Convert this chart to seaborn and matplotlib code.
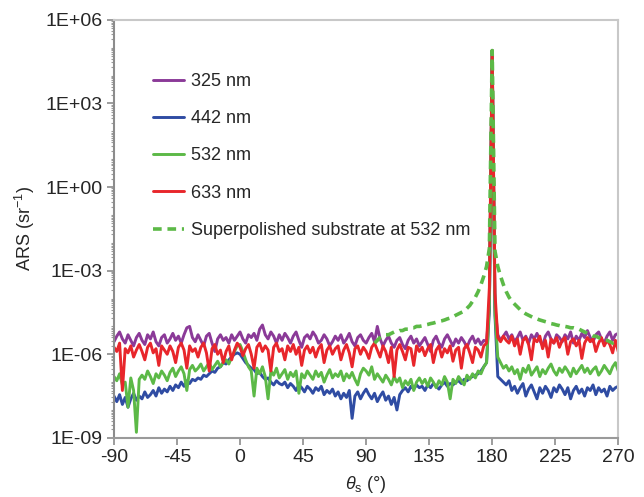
import numpy as np
import pandas as pd
import matplotlib
matplotlib.use("Agg")
import matplotlib.pyplot as plt
import matplotlib.ticker as mticker
import seaborn as sns

# scattering angle grid, degrees (2 deg steps)
theta = np.arange(-90, 271, 2)
theta_sub = np.arange(96, 271, 2)

# log10(ARS)
log_325 = [
    -5.55, -5.35, -5.2, -5.45, -5.6, -5.3, -5.5, -5.7, -5.4, -5.25,
    -5.5, -5.65, -5.3, -5.45, -5.2, -5.55, -5.7, -5.4, -5.3, -5.6,
    -5.45, -5.25, -5.5, -5.35, -5.6, -5.3, -5.05, -5.0, -5.4, -5.55,
    -5.3, -5.5, -5.7, -5.35, -5.25, -5.6, -5.9, -5.45, -5.3, -5.5,
    -5.4, -5.6, -5.3, -5.5, -5.35, -5.2, -5.45, -5.6, -5.3, -5.4,
    -5.25, -5.5, -5.1, -4.95, -5.3, -5.45, -5.2, -5.35, -5.6, -5.3,
    -5.5, -5.25, -5.4, -5.6, -5.35, -5.2, -5.5, -5.75, -5.4, -5.3,
    -5.45, -5.2, -5.35, -5.6, -5.5, -5.3, -5.45, -5.7, -5.55, -5.35,
    -5.5, -5.3, -5.6, -5.45, -5.25, -5.55, -5.7, -5.4, -5.3, -5.5,
    -5.6, -5.4, -5.25, -5.55, -5.0, -5.45, -5.7, -5.5, -5.35, -5.6,
    -5.75, -5.5, -5.4, -5.65, -5.8, -5.5, -5.35, -5.6, -5.45, -5.7,
    -5.55, -5.4, -5.65, -5.9, -5.5, -5.35, -5.6, -5.75, -5.45, -5.3,
    -5.5, -5.7, -5.45, -5.6, -5.4, -5.55, -5.75, -5.5, -5.35, -5.6,
    -5.45, -5.65, -5.5, -5.55, -4.3, 4.9, -4.3, -5.3, -5.5, -5.35,
    -5.2, -5.45, -5.3, -5.55, -5.4, -5.2, -5.5, -5.35, -5.6, -5.3,
    -5.45, -5.25, -5.5, -5.7, -5.35, -5.2, -5.45, -5.6, -5.3, -5.4,
    -5.55, -5.3, -5.45, -5.2, -5.6, -5.35, -5.5, -5.25, -5.4, -5.15,
    -5.4, -5.55, -5.3, -5.2, -5.45, -5.6, -5.35, -5.2, -5.5, -5.3,
    -5.25,
]
log_442 = [
    -7.5, -7.7, -7.45, -7.8, -7.55, -7.9, -7.6, -7.4, -7.65, -7.5,
    -7.6, -7.35, -7.55, -7.45, -7.3, -7.5, -7.2, -7.4, -7.25, -7.35,
    -7.15, -7.3, -7.1, -7.2, -7.0, -7.15, -6.95, -7.05, -6.9, -6.95,
    -6.85, -6.9, -6.75, -6.8, -6.7, -6.6, -6.65, -6.5, -6.45, -6.3,
    -6.35, -6.2, -6.1, -6.0, -5.95, -6.0, -6.15, -6.3, -6.4, -6.5,
    -6.55, -6.7, -6.65, -6.8, -6.9, -6.85, -7.0, -7.1, -6.95, -7.05,
    -7.1, -7.0, -7.2, -7.05, -7.15, -7.3, -7.1, -7.2, -7.35, -7.15,
    -7.25, -7.4, -7.2, -7.3, -7.15, -7.45, -7.3, -7.4, -7.25, -7.5,
    -7.35, -7.6, -7.4, -7.55, -7.3, -8.3, -7.5, -7.35, -7.6, -7.4,
    -7.25, -7.45, -7.6, -7.4, -7.7, -7.5, -7.35, -7.65, -7.5, -7.8,
    -7.55, -8.0, -7.45, -7.3, -7.2, -7.35, -7.15, -7.25, -7.1, -7.2,
    -7.15, -7.3, -7.1, -7.2, -7.05, -7.15, -7.25, -7.1, -7.0, -7.15,
    -7.05, -7.1, -7.0, -6.95, -7.05, -6.9, -6.95, -6.85, -6.8, -6.75,
    -6.7, -6.6, -6.45, -6.3, -4.4, 4.9, -4.6, -6.8, -6.9, -7.0,
    -7.1, -6.95, -7.3, -7.15, -7.4, -7.2, -7.05, -7.5, -7.25, -7.1,
    -7.35, -7.6, -7.2, -7.4, -7.15, -7.3, -7.55, -7.2, -7.35, -7.1,
    -7.25, -7.45, -7.2, -7.6, -7.3, -7.15, -7.4, -7.25, -7.5, -7.2,
    -7.3, -7.1, -7.45, -7.2, -7.35, -7.25, -7.5, -7.15, -7.3, -7.2,
    -7.15,
]
log_532 = [
    -6.8, -6.95, -6.7, -7.1, -7.0, -7.9, -6.85, -7.3, -8.8, -6.9,
    -6.75, -6.9, -6.6, -6.8, -7.05, -6.7, -6.85, -6.6, -6.75, -6.95,
    -6.65, -6.5, -6.8, -6.6, -6.45, -6.7, -7.3, -6.55, -6.4, -6.6,
    -6.5, -6.35, -6.6, -6.45, -6.3, -6.55, -6.4, -6.25, -6.45, -6.3,
    -6.2, -6.35, -6.1, -5.9, -5.7, -5.65, -5.9, -6.2, -6.45, -6.6,
    -7.5, -6.5, -6.7, -6.45, -6.8, -7.6, -6.6, -6.75, -6.5, -6.85,
    -6.7, -6.55, -6.9, -6.65, -6.8, -6.6, -7.4, -6.7, -6.85, -6.6,
    -6.75, -6.9, -6.6, -6.8, -6.65, -7.0, -6.75, -6.55, -6.85, -6.7,
    -6.8, -6.6, -6.95, -6.7, -6.85, -6.65, -6.9, -7.1, -6.7, -6.5,
    -6.6, -6.75, -6.45, -6.9, -6.7, -6.85, -7.0, -6.75, -6.9, -7.1,
    -6.8, -7.0, -6.85, -7.2, -6.95, -7.1, -6.9, -7.3, -7.0, -6.85,
    -7.05, -6.9, -7.15, -6.85, -7.0, -7.2, -6.95, -7.1, -6.8, -7.0,
    -7.6, -6.9, -7.05, -6.8, -6.95, -7.1, -6.75, -6.9, -6.7, -6.85,
    -6.6, -6.7, -6.45, -6.3, -4.2, 4.9, -4.5, -6.1, -6.3, -6.5,
    -6.4, -6.6, -6.45, -6.7, -6.55, -6.9, -6.5, -6.65, -6.4, -6.75,
    -6.6, -6.45, -6.8, -6.55, -6.7, -6.5, -6.35, -6.6, -6.75, -6.5,
    -6.65, -6.45, -6.6, -6.8, -6.5, -6.7, -6.55, -6.4, -6.65, -6.5,
    -6.7, -6.55, -6.45, -6.75, -6.6, -6.4, -6.55, -6.7, -6.45, -6.3,
    -6.6,
]
log_633 = [
    -5.75, -5.9, -5.6, -7.3, -5.8, -5.95, -5.7, -6.1, -5.85, -5.65,
    -5.9, -6.2, -5.75, -5.6, -5.95, -5.8, -6.4, -5.7, -5.85, -6.0,
    -5.7, -5.9, -6.3, -5.75, -5.6, -5.85, -6.5, -5.7, -5.9, -5.8,
    -6.1, -5.75, -5.6, -5.95, -6.6, -5.8, -5.65, -6.0, -5.85, -6.3,
    -5.9, -5.7, -6.2, -5.85, -5.6, -5.75, -6.05, -5.8, -5.65, -6.0,
    -6.5, -5.75, -5.6, -5.9, -5.7, -5.85, -6.6, -5.75, -5.6, -5.9,
    -5.8, -6.2, -5.7, -5.9, -5.65, -6.0, -5.75, -6.4, -5.85, -5.7,
    -5.95, -5.75, -6.1, -5.8, -5.65, -6.3, -5.85, -5.7, -6.0, -5.8,
    -5.7, -6.2, -5.85, -5.65, -5.95, -6.45, -5.8, -5.7, -6.0, -5.75,
    -5.9, -6.15, -5.75, -5.6, -5.85, -6.1, -5.7, -5.9, -6.3, -5.75,
    -6.8, -5.85, -5.65, -5.9, -6.2, -5.75, -5.8, -6.4, -5.7, -5.9,
    -5.75, -6.05, -5.8, -5.65, -6.3, -5.85, -5.7, -6.1, -5.8, -5.95,
    -5.7, -6.25, -5.85, -5.75, -6.5, -5.8, -5.65, -5.95, -6.3, -5.75,
    -5.85, -6.1, -5.7, -5.6, -3.6, 4.9, -3.8, -5.4, -5.55, -5.35,
    -5.5, -5.6, -5.35, -5.7, -5.45, -6.0, -5.5, -5.4, -5.65, -6.2,
    -5.45, -5.55, -5.35, -5.8, -5.5, -6.1, -5.45, -5.6, -5.4, -5.75,
    -5.5, -5.4, -6.0, -5.55, -5.45, -5.7, -5.5, -6.15, -5.6, -5.4,
    -5.55, -5.45, -5.9, -5.6, -5.4, -5.7, -5.5, -5.65, -5.95, -5.5,
    -5.9,
]
log_sub = [
    -5.6, -5.5, -5.4, -5.35, -5.3, -5.3, -5.25, -5.2, -5.2, -5.15,
    -5.15, -5.1, -5.1, -5.05, -5.05, -5.0, -5.0, -4.98, -4.95, -4.93,
    -4.9, -4.88, -4.85, -4.82, -4.8, -4.77, -4.73, -4.7, -4.66, -4.6,
    -4.55, -4.5, -4.45, -4.35, -4.25, -4.1, -3.95, -3.75, -3.5, -3.2,
    -2.85, -2.2, 4.9, -2.3, -2.85, -3.2, -3.5, -3.75, -3.95, -4.1,
    -4.2, -4.3, -4.4, -4.48, -4.55, -4.6, -4.65, -4.7, -4.73, -4.77,
    -4.8, -4.83, -4.86, -4.9, -4.92, -4.95, -4.97, -5.0, -5.0, -5.02,
    -5.05, -5.05, -5.08, -5.1, -5.15, -5.2, -5.25, -5.3, -5.35, -5.35,
    -5.4, -5.45, -5.5, -5.5, -5.55, -5.6, -5.55, -5.6,
]

labels = ["325 nm", "442 nm", "532 nm", "633 nm", "Superpolished substrate at 532 nm"]
colors = ["#8b3a98", "#2f4ca3", "#5cb947", "#e8262b", "#5cb947"]

sns.set_style("white")
plt.rcParams["font.family"] = ["Liberation Sans", "DejaVu Sans"]
plt.rcParams["mathtext.fontset"] = "custom"
plt.rcParams["mathtext.rm"] = "Liberation Sans"
plt.rcParams["mathtext.it"] = "Liberation Sans:italic"
plt.rcParams["axes.unicode_minus"] = False

fig = plt.figure(figsize=(6.44, 4.97), dpi=100)
ax = fig.add_axes([0.177, 0.119, 0.783, 0.841])

series = [(theta, log_325), (theta, log_442), (theta, log_532), (theta, log_633), (theta_sub, log_sub)]
for (x, ly), lab, col in zip(series, labels, colors):
    df = pd.DataFrame({"theta": x, "ars": 10.0 ** np.array(ly)})
    sns.lineplot(data=df, x="theta", y="ars", color=col, lw=2.1, label=lab, ax=ax)
ax.lines[-1].set_linewidth(2.6)
ax.lines[-1].set_dashes([2.4, 1.6])

ax.set_yscale("log")
ax.set_ylim(1e-9, 1e6)
ax.set_xlim(-90, 270)
ax.set_xticks(np.arange(-90, 271, 45))
ax.yaxis.set_major_locator(mticker.FixedLocator([1e-9, 1e-6, 1e-3, 1, 1e3, 1e6]))
ax.yaxis.set_major_formatter(mticker.FuncFormatter(lambda v, p: f"{v:.0E}"))
ax.yaxis.set_minor_locator(mticker.LogLocator(base=10, subs=np.arange(1, 10), numticks=200))
ax.yaxis.set_minor_formatter(mticker.NullFormatter())

ax.tick_params(axis="both", which="both", left=True, bottom=True)
ax.tick_params(axis="both", which="major", direction="out", length=5, width=1.2,
               color="#8c8c8c", labelsize=14, pad=3)
ax.tick_params(axis="y", which="minor", direction="out", length=2.5, width=0.8, color="#9a9a9a")

for side, c in [("left", "#8c8c8c"), ("bottom", "#9a9a9a"), ("top", "#c8c8c8"), ("right", "#c8c8c8")]:
    ax.spines[side].set_color(c)
    ax.spines[side].set_linewidth(1.5)

ax.set_xlabel(r"$\theta_\mathrm{s}$ (°)", fontsize=13, labelpad=6)
ax.set_ylabel(r"ARS (sr$^{-1}$)", fontsize=13, labelpad=6)

ax.legend(loc="upper left", bbox_to_anchor=(0.077, 0.873), frameon=False, fontsize=13,
          handlelength=1.7, handletextpad=0.4, labelspacing=1.12, borderpad=0, borderaxespad=0)

fig.savefig("out.png", dpi=100)
